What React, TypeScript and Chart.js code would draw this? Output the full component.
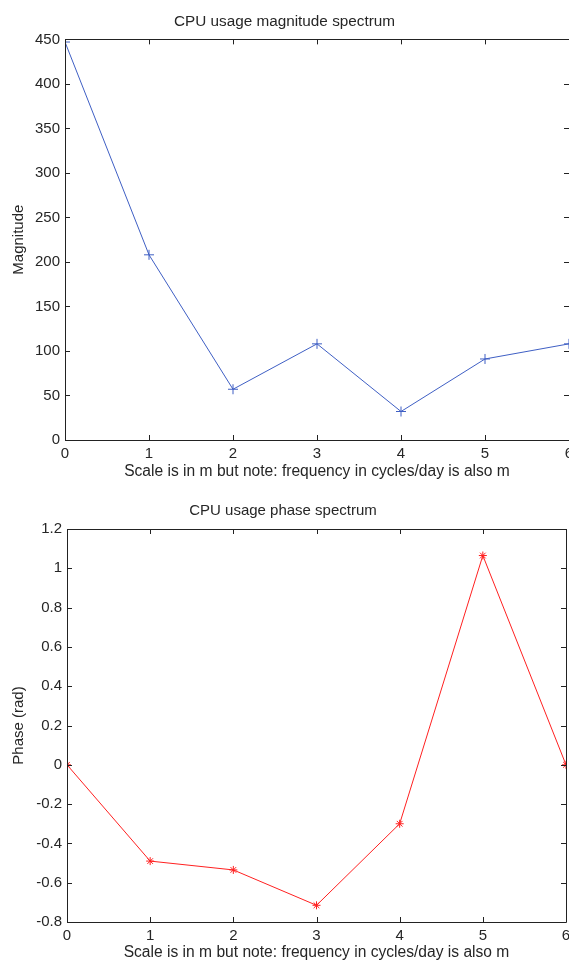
import React, { useEffect, useRef } from "react";
import { Chart, registerables } from "chart.js";
Chart.register(...registerables);

const freq = [0, 1, 2, 3, 4, 5, 6];
const magnitude = [447, 208, 57, 108, 32, 91, 108];
const phase = [0, -0.49, -0.535, -0.715, -0.3, 1.065, 0];
const xTicks = [0, 1, 2, 3, 4, 5, 6];
const magTicks = [0, 50, 100, 150, 200, 250, 300, 350, 400, 450];
const phaseTicks = [-0.8, -0.6, -0.4, -0.2, 0, 0.2, 0.4, 0.6, 0.8, 1, 1.2];

const FONT = "'Liberation Sans', Arial, Helvetica, sans-serif";
const TXT = "#262626";

const boxPlugin = {
  id: "matlabBox",
  afterDraw(chart: any) {
    const { ctx, chartArea: a, scales } = chart;
    ctx.save();
    ctx.strokeStyle = "#222";
    ctx.lineWidth = 1;
    ctx.beginPath();
    ctx.rect(Math.round(a.left) + 0.5, Math.round(a.top) + 0.5, Math.round(a.right - a.left), Math.round(a.bottom - a.top));
    ctx.stroke();
    const L = 5;
    ctx.beginPath();
    scales.x.ticks.forEach((t: any) => {
      const px = Math.round(scales.x.getPixelForValue(t.value)) + 0.5;
      ctx.moveTo(px, a.bottom);
      ctx.lineTo(px, a.bottom - L);
      ctx.moveTo(px, a.top);
      ctx.lineTo(px, a.top + L);
    });
    scales.y.ticks.forEach((t: any) => {
      const py = Math.round(scales.y.getPixelForValue(t.value)) + 0.5;
      ctx.moveTo(a.left, py);
      ctx.lineTo(a.left + L, py);
      ctx.moveTo(a.right, py);
      ctx.lineTo(a.right - L, py);
    });
    ctx.stroke();
    ctx.restore();
  },
};

function makeConfig(opts: {
  title: string;
  titleSize: number;
  yTitle: string;
  data: number[];
  color: string;
  pointStyle: string;
  radius: number;
  yMin: number;
  yMax: number;
  yTickVals: number[];
  yWidth: number;
  xHeight: number;
  xTitlePadBottom: number;
  titlePad: { top: number; bottom: number };
  padRight: number;
}) {
  return {
    type: "line" as const,
    data: {
      datasets: [
        {
          data: freq.map((f, i) => ({ x: f, y: opts.data[i] })),
          borderColor: opts.color,
          backgroundColor: opts.color,
          borderWidth: 1,
          pointStyle: opts.pointStyle,
          pointRadius: opts.radius,
          pointBorderWidth: 1,
          pointBorderColor: opts.color,
          tension: 0,
        },
      ],
    },
    options: {
      responsive: false,
      animation: false,
      layout: { padding: { left: 0, right: opts.padRight, top: 0, bottom: 0 } },
      plugins: {
        legend: { display: false },
        tooltip: { enabled: false },
        title: {
          display: true,
          text: opts.title,
          color: TXT,
          font: { family: FONT, size: opts.titleSize, weight: "normal", lineHeight: 1.2 },
          padding: opts.titlePad,
        },
      },
      scales: {
        x: {
          type: "linear",
          min: 0,
          max: 6,
          afterBuildTicks: (s: any) => {
            s.ticks = xTicks.map((v) => ({ value: v }));
          },
          afterFit: (s: any) => {
            s.height = opts.xHeight;
          },
          grid: { display: false, drawTicks: false },
          border: { display: false },
          ticks: { color: TXT, font: { family: FONT, size: 15 }, padding: 5, maxRotation: 0, autoSkip: false },
          title: {
            display: true,
            text: "Scale is in m but note: frequency in cycles/day is also m",
            color: TXT,
            font: { family: FONT, size: 15.6, lineHeight: 1.2 },
            padding: { top: 0, bottom: opts.xTitlePadBottom },
          },
        },
        y: {
          type: "linear",
          min: opts.yMin,
          max: opts.yMax,
          afterBuildTicks: (s: any) => {
            s.ticks = opts.yTickVals.map((v) => ({ value: v }));
          },
          afterFit: (s: any) => {
            s.width = opts.yWidth;
          },
          grid: { display: false, drawTicks: false },
          border: { display: false },
          ticks: {
            color: TXT,
            font: { family: FONT, size: 15 },
            padding: 5,
            autoSkip: false,
            callback: (v: any) => String(Number(Number(v).toFixed(2))),
          },
          title: {
            display: true,
            text: opts.yTitle,
            color: TXT,
            font: { family: FONT, size: 15, lineHeight: 1.2 },
            padding: { top: 9.5, bottom: 0 },
          },
        },
      },
    },
    plugins: [boxPlugin],
  };
}

export default function App() {
  const topRef = useRef<HTMLCanvasElement>(null);
  const botRef = useRef<HTMLCanvasElement>(null);

  useEffect(() => {
    const c1 = new Chart(
      topRef.current as HTMLCanvasElement,
      makeConfig({
        title: "CPU usage magnitude spectrum",
        titleSize: 15.3,
        yTitle: "Magnitude",
        data: magnitude,
        color: "#3f5fc4",
        pointStyle: "cross",
        radius: 5,
        yMin: 0,
        yMax: 450,
        yTickVals: magTicks,
        yWidth: 65,
        xHeight: 50,
        xTitlePadBottom: 8.5,
        titlePad: { top: 12.5, bottom: 8.5 },
        padRight: 31,
      }) as any
    );
    const c2 = new Chart(
      botRef.current as HTMLCanvasElement,
      makeConfig({
        title: "CPU usage phase spectrum",
        titleSize: 15,
        yTitle: "Phase (rad)",
        data: phase,
        color: "#ff2020",
        pointStyle: "star",
        radius: 4,
        yMin: -0.8,
        yMax: 1.2,
        yTickVals: phaseTicks,
        yWidth: 67,
        xHeight: 41,
        xTitlePadBottom: 1,
        titlePad: { top: 12, bottom: 9 },
        padRight: 34,
      }) as any
    );
    return () => {
      c1.destroy();
      c2.destroy();
    };
  }, []);

  return (
    <div
      style={{
        position: "fixed",
        left: 0,
        top: 0,
        width: 569,
        height: 963,
        overflow: "hidden",
        background: "#fff",
      }}
    >
      <canvas ref={topRef} width={600} height={490} style={{ display: "block" }} />
      <canvas ref={botRef} width={600} height={473} style={{ display: "block" }} />
    </div>
  );
}
